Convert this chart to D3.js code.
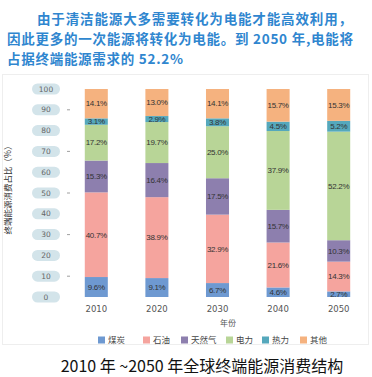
<!DOCTYPE html>
<html>
<head>
<meta charset="utf-8">
<script src="https://cdn.jsdelivr.net/npm/d3@7"></script>
<style>
  body { margin: 0; background: #fff; }
  svg { display: block; }
</style>
</head>
<body>
<div id="chart"></div>
<script>
// data
const years = ['2010', '2020', '2030', '2040', '2050'];
const seriesNames = ['煤炭', '石油', '天然气', '电力', '热力', '其他'];
const coal  = [9.6, 9.1, 6.7, 4.6, 2.7];
const oil   = [40.7, 38.9, 32.9, 21.6, 14.3];
const gas   = [15.3, 16.4, 17.5, 15.7, 10.3];
const power = [17.2, 19.7, 25.0, 37.9, 52.2];
const heat  = [3.1, 2.9, 3.8, 4.5, 5.2];
const other = [14.1, 13.0, 14.1, 15.7, 15.3];
const yTicks = [0, 10, 20, 30, 40, 50, 60, 70, 80, 90, 100];

const colors = ['#6e99d1', '#f5a49e', '#8d7fae', '#b8d597', '#55a8bc', '#f5b27f'];
const seriesValues = [coal, oil, gas, power, heat, other];

const width = 372, height = 377;
const svg = d3.select('#chart').append('svg')
    .attr('width', width)
    .attr('height', height);

// headline text
const headFont = '"Noto Sans CJK SC", sans-serif';
const head = [
    { text: '由于清洁能源大多需要转化为电能才能高效利用，', x: 37, y: 24, w: 315 },
    { text: '因此更多的一次能源将转化为电能。到 2050 年,电能将', x: 7, y: 44, w: 346 },
    { text: '占据终端能源需求的 52.2%', x: 7, y: 64, w: 176 }
];
svg.selectAll('.head')
    .data(head)
    .enter()
    .append('text')
    .attr('class', 'head')
    .attr('x', d => d.x)
    .attr('y', d => d.y)
    .attr('textLength', d => d.w)
    .attr('lengthAdjust', 'spacing')
    .attr('font-family', headFont)
    .attr('font-weight', 'bold')
    .attr('font-size', 13.5)
    .attr('fill', '#2f86cf')
    .text(d => d.text);

// faint panel border
svg.append('rect')
    .attr('x', 2.5).attr('y', 74.5)
    .attr('width', 366).attr('height', 270)
    .attr('fill', 'none')
    .attr('stroke', '#eeeeee');

// stack
const table = years.map((y, i) => {
    const row = { year: y };
    seriesNames.forEach((s, k) => { row[s] = seriesValues[k][i]; });
    return row;
});
const stacked = d3.stack().keys(seriesNames)(table);

const xScale = d3.scaleBand()
    .domain(years)
    .range([66, 369])
    .paddingInner(0.62)
    .paddingOuter(0.31);

const yScale = d3.scaleLinear()
    .domain([0, 100])
    .range([297, 89]);

// y tick pills
const yAxisG = svg.append('g');
const ticks = yAxisG.selectAll('.ytick')
    .data(yTicks)
    .enter()
    .append('g')
    .attr('class', 'ytick')
    .attr('transform', d => `translate(46,${yScale(d)})`);
ticks.append('rect')
    .attr('x', -14).attr('y', -5.5)
    .attr('width', 28).attr('height', 11)
    .attr('rx', 5.5)
    .attr('fill', '#d3e4ea');
ticks.append('text')
    .attr('text-anchor', 'middle')
    .attr('dy', '0.35em')
    .attr('font-family', 'DejaVu Sans, sans-serif')
    .attr('font-size', 7.5)
    .attr('fill', '#666')
    .text(d => d);
ticks.filter(d => d % 20 === 10)
    .append('line')
    .attr('x1', 21).attr('x2', 24)
    .attr('stroke', '#888')
    .attr('stroke-width', 0.8);

// y axis title
svg.append('text')
    .attr('transform', 'translate(11,188) rotate(-90)')
    .attr('text-anchor', 'middle')
    .attr('font-family', headFont)
    .attr('font-size', 8.5)
    .attr('fill', '#333')
    .text('终端能源消费占比（%）');

// bars
const groups = svg.selectAll('.series')
    .data(stacked)
    .enter()
    .append('g')
    .attr('class', 'series')
    .attr('fill', (d, i) => colors[i]);

groups.selectAll('rect')
    .data(d => d)
    .enter()
    .append('rect')
    .attr('x', d => xScale(d.data.year))
    .attr('y', d => yScale(d[1]))
    .attr('width', xScale.bandwidth())
    .attr('height', d => yScale(d[0]) - yScale(d[1]));

groups.selectAll('text')
    .data(d => d.map(p => ({ p, key: d.key })))
    .enter()
    .append('text')
    .attr('x', d => xScale(d.p.data.year) + xScale.bandwidth() / 2)
    .attr('y', d => (yScale(d.p[0]) + yScale(d.p[1])) / 2)
    .attr('dy', '0.35em')
    .attr('text-anchor', 'middle')
    .attr('font-family', 'Liberation Sans, sans-serif')
    .attr('font-size', 8)
    .attr('letter-spacing', -0.3)
    .attr('fill', '#333')
    .text(d => d.p.data[d.key].toFixed(1) + '%');

// x axis labels
svg.selectAll('.xlabel')
    .data(years)
    .enter()
    .append('text')
    .attr('class', 'xlabel')
    .attr('x', d => xScale(d) + xScale.bandwidth() / 2)
    .attr('y', 312)
    .attr('text-anchor', 'middle')
    .attr('font-family', 'DejaVu Sans, sans-serif')
    .attr('font-size', 8.5)
    .attr('fill', '#555')
    .text(d => d);

svg.append('text')
    .attr('x', 228).attr('y', 326)
    .attr('text-anchor', 'middle')
    .attr('font-family', headFont)
    .attr('font-size', 8)
    .attr('fill', '#555')
    .text('年份');

// legend
const legendX = [98, 143, 181, 226, 262, 300];
const legend = svg.selectAll('.legend')
    .data(seriesNames)
    .enter()
    .append('g')
    .attr('class', 'legend')
    .attr('transform', (d, i) => `translate(${legendX[i]},340)`);
legend.append('rect')
    .attr('x', 0).attr('y', -3.5)
    .attr('width', 7).attr('height', 7)
    .attr('fill', (d, i) => colors[i]);
legend.append('text')
    .attr('x', 10)
    .attr('dy', '0.35em')
    .attr('font-family', headFont)
    .attr('font-size', 8.5)
    .attr('fill', '#444')
    .text(d => d);

// caption
svg.append('text')
    .attr('x', 202).attr('y', 372)
    .attr('text-anchor', 'middle')
    .attr('font-family', headFont)
    .attr('font-size', 16)
    .attr('fill', '#111')
    .text('2010 年 ~2050 年全球终端能源消费结构');
</script>
</body>
</html>
